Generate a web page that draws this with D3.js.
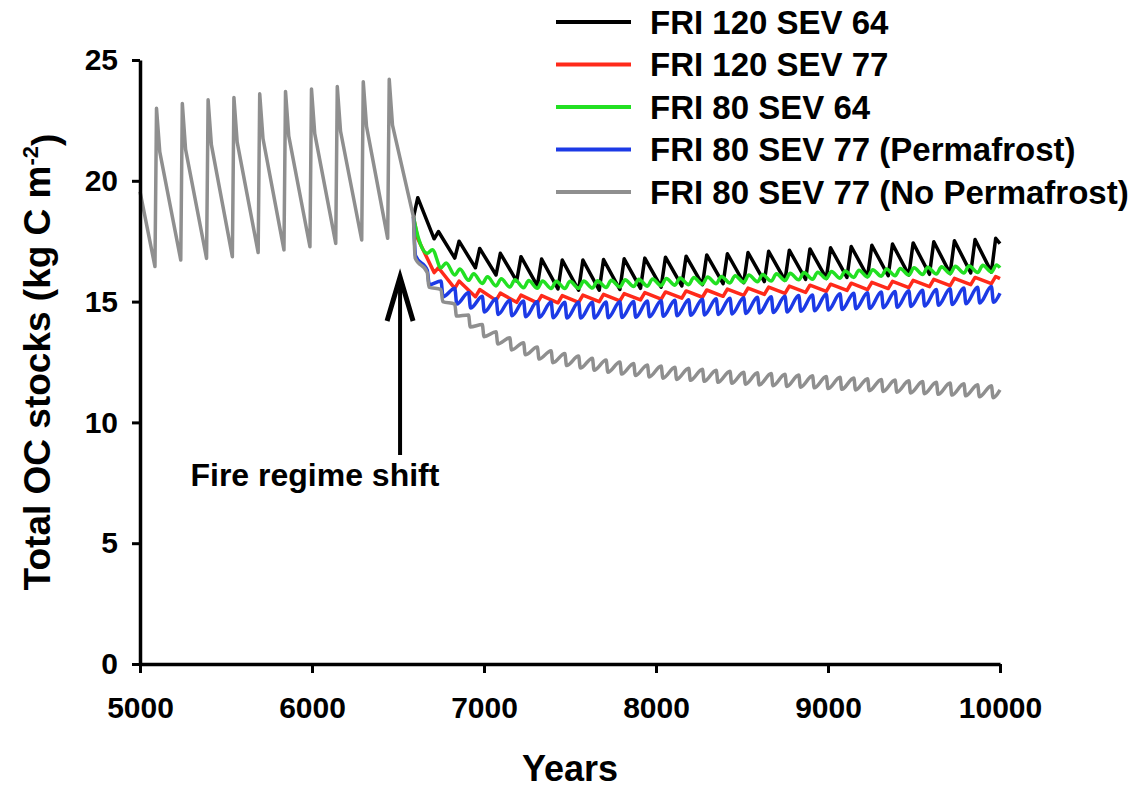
<!DOCTYPE html>
<html>
<head>
<meta charset="utf-8">
<script src="https://cdn.jsdelivr.net/npm/d3@7"></script>
<style>
  html, body { margin: 0; padding: 0; background: #fff; }
  svg { display: block; font-family: "Liberation Sans", Arial, sans-serif; font-weight: bold; }
</style>
</head>
<body>
<div id="chart"></div>
<script>
// Shared history before the regime change (FRI ~150): fire year, value at fire, post-fire peak, shoulder
const preStart = [5000, 19.55];
const preFire = [5087, 5237, 5387, 5537, 5687, 5837, 5988, 6138, 6289, 6440];
const preLow = [16.45, 16.72, 16.79, 16.86, 17.03, 17.14, 17.27, 17.41, 17.55, 17.62];
const prePeak = [23.0, 23.2, 23.35, 23.45, 23.6, 23.7, 23.8, 23.9, 24.1, 24.2];
const preShoulder = [21.2, 21.3, 21.5, 21.6, 21.75, 21.85, 21.95, 22.05, 22.25, 22.3];
const shiftPoint = [6590, 18.5];

// After the shift, fires every FRI years starting at the shift
const shiftYear = 6590;
const endYear = 10000;

// FRI 120 SEV 64: value at each fire, then peak 25 yr later
const blackLow = [18.5, 17.6, 16.8, 16.4, 16.1, 15.85, 15.65, 15.52, 15.47, 15.47, 15.5, 15.55, 15.6, 15.65, 15.7,
  15.74, 15.78, 15.83, 15.88, 15.92, 15.96, 16.0, 16.04, 16.07, 16.1, 16.13, 16.16, 16.19, 16.22];
const blackHigh = [19.3, 17.9, 17.5, 17.2, 17.0, 16.86, 16.76, 16.72, 16.72, 16.74, 16.77, 16.8, 16.84, 16.88, 16.93,
  16.98, 17.03, 17.08, 17.13, 17.18, 17.23, 17.28, 17.33, 17.38, 17.43, 17.48, 17.52, 17.57, 17.62];
const blackEnd = 17.4;

// FRI 120 SEV 77
const redLow = [18.5, 16.2, 15.55, 15.2, 15.05, 14.97, 14.95, 14.95, 14.97, 15.0, 15.03, 15.07, 15.1, 15.14, 15.18,
  15.22, 15.26, 15.3, 15.34, 15.38, 15.42, 15.46, 15.5, 15.54, 15.58, 15.62, 15.66, 15.7, 15.74];
const redHigh = [17.6, 16.4, 15.85, 15.5, 15.35, 15.27, 15.25, 15.25, 15.27, 15.3, 15.33, 15.37, 15.4, 15.44, 15.48,
  15.52, 15.56, 15.6, 15.64, 15.68, 15.72, 15.76, 15.8, 15.84, 15.88, 15.92, 15.96, 16.0, 16.04];
const redEnd = 15.95;

// FRI 80 SEV 64: value at each fire, then hump 30 yr later
const greenLow = [18.5, 17.0, 16.4, 16.1, 15.88, 15.75, 15.65, 15.6, 15.57, 15.55, 15.54, 15.54, 15.55, 15.56, 15.58,
  15.6, 15.62, 15.64, 15.66, 15.68, 15.7, 15.72, 15.74, 15.77, 15.8, 15.82, 15.85, 15.87, 15.9, 15.92,
  15.95, 15.97, 16.0, 16.02, 16.05, 16.07, 16.1, 16.12, 16.14, 16.16, 16.18, 16.2, 16.22];
const greenHigh = [17.6, 17.15, 16.6, 16.35, 16.15, 16.03, 15.95, 15.9, 15.87, 15.85, 15.84, 15.84, 15.85, 15.86, 15.88,
  15.9, 15.92, 15.94, 15.96, 15.98, 16.0, 16.02, 16.04, 16.07, 16.1, 16.12, 16.15, 16.17, 16.2, 16.22,
  16.25, 16.27, 16.3, 16.32, 16.35, 16.37, 16.4, 16.42, 16.44, 16.46, 16.48, 16.5, 16.52];
const greenEnd = 16.4;

// FRI 80 SEV 77 (Permafrost): value at each fire, then trough 12 yr later
const blueTop = [18.5, 16.3, 15.85, 15.55, 15.38, 15.22, 15.12, 15.06, 15.02, 15.0, 14.98, 14.97, 14.97, 14.97, 14.98,
  14.99, 15.0, 15.02, 15.04, 15.06, 15.08, 15.1, 15.12, 15.14, 15.16, 15.18, 15.2, 15.22, 15.25, 15.27,
  15.3, 15.32, 15.35, 15.37, 15.4, 15.42, 15.45, 15.47, 15.5, 15.53, 15.56, 15.59, 15.62];
const blueBottom = [16.9, 15.7, 15.2, 14.9, 14.73, 14.57, 14.47, 14.41, 14.37, 14.35, 14.33, 14.32, 14.32, 14.32, 14.33,
  14.34, 14.35, 14.37, 14.39, 14.41, 14.43, 14.45, 14.47, 14.49, 14.51, 14.53, 14.55, 14.57, 14.6, 14.62,
  14.65, 14.67, 14.7, 14.72, 14.75, 14.77, 14.8, 14.82, 14.85, 14.88, 14.91, 14.94, 14.97];
const blueEnd = 15.35;

// FRI 80 SEV 77 (No Permafrost): value at each fire, then trough 10 yr later
const grayTop = [18.5, 16.2, 15.5, 14.9, 14.45, 14.05, 13.75, 13.5, 13.3, 13.12, 12.97, 12.85, 12.75, 12.66, 12.58,
  12.5, 12.44, 12.38, 12.33, 12.28, 12.24, 12.2, 12.16, 12.12, 12.08, 12.05, 12.02, 11.99, 11.96, 11.93,
  11.9, 11.87, 11.84, 11.81, 11.78, 11.75, 11.72, 11.69, 11.66, 11.63, 11.6, 11.56, 11.52];
const grayBottom = [16.8, 15.6, 15.0, 14.4, 13.95, 13.55, 13.25, 13.0, 12.8, 12.62, 12.47, 12.35, 12.25, 12.16, 12.08,
  12.0, 11.94, 11.88, 11.83, 11.78, 11.74, 11.7, 11.66, 11.62, 11.58, 11.55, 11.52, 11.49, 11.46, 11.43,
  11.4, 11.37, 11.34, 11.31, 11.28, 11.25, 11.22, 11.19, 11.16, 11.13, 11.1, 11.06, 11.02];
const grayEnd = 11.35;

const legendLabels = ['FRI 120 SEV 64', 'FRI 120 SEV 77', 'FRI 80 SEV 64', 'FRI 80 SEV 77 (Permafrost)', 'FRI 80 SEV 77 (No Permafrost)'];
const seriesColors = ['#000000', '#ff2a1a', '#22e022', '#1c3ae6', '#8f8f8f'];
const yTicks = [0, 5, 10, 15, 20, 25];
const xTicks = [5000, 6000, 7000, 8000, 9000, 10000];

// Arrow annotation, in data units
const arrowYear = 6512;
const arrowTip = 16.1;
const arrowBase = 8.65;
const shiftLabel = { text: 'Fire regime shift', year: 6017, value: 7.35 };

const width = 1142;
const height = 789;

const svg = d3.select('#chart')
  .append('svg')
  .attr('width', width)
  .attr('height', height);

const x = d3.scaleLinear().domain([5000, 10000]).range([140, 1000]);
const y = d3.scaleLinear().domain([0, 25]).range([664, 60]);

// Turn per-fire arrays into a vertex list: [fire, a], [fire + lag, b], ...
function cycles(fri, first, second, lag, endValue) {
  const pts = [];
  first.forEach((v, k) => {
    const f = shiftYear + k * fri;
    pts.push([f, v], [f + lag, second[k]]);
  });
  pts.push([endYear, endValue]);
  return pts;
}

const prePoints = [preStart];
preFire.forEach((f, i) => {
  prePoints.push([f, preLow[i]], [f + 9, prePeak[i]], [f + 28, preShoulder[i]]);
});
prePoints.push(shiftPoint);

const series = [
  { pts: cycles(120, blackLow, blackHigh, 25, blackEnd), curve: d3.curveLinear },
  { pts: cycles(120, redLow, redHigh, 25, redEnd), curve: d3.curveLinear },
  { pts: cycles(80, greenLow, greenHigh, 30, greenEnd), curve: d3.curveMonotoneX },
  { pts: cycles(80, blueTop, blueBottom, 12, blueEnd), curve: d3.curveMonotoneX },
  { pts: cycles(80, grayTop, grayBottom, 10, grayEnd), curve: d3.curveMonotoneX }
];

const line = d3.line().x(d => x(d[0])).y(d => y(d[1]));

const plot = svg.append('g');

series.forEach((s, i) => {
  plot.append('path')
    .attr('d', line.curve(s.curve)(s.pts))
    .attr('fill', 'none')
    .attr('stroke', seriesColors[i])
    .attr('stroke-width', 3.5)
    .attr('stroke-linejoin', 'round');
});

// Shared pre-shift history drawn last, on top
plot.append('path')
  .attr('d', line.curve(d3.curveLinear)(prePoints))
  .attr('fill', 'none')
  .attr('stroke', seriesColors[4])
  .attr('stroke-width', 3.5)
  .attr('stroke-linejoin', 'round');

// Axes
const yAxis = svg.append('g')
  .attr('transform', `translate(${x(5000)},0)`)
  .call(d3.axisLeft(y).tickValues(yTicks).tickSize(8).tickSizeOuter(0).tickPadding(14));

const xAxis = svg.append('g')
  .attr('transform', `translate(0,${y(0)})`)
  .call(d3.axisBottom(x).tickValues(xTicks).tickFormat(d3.format('d')).tickSize(9).tickSizeOuter(0).tickPadding(24));

[yAxis, xAxis].forEach(a => {
  a.select('.domain').attr('stroke', '#000').attr('stroke-width', 3.5);
  a.selectAll('.tick line').attr('stroke', '#000').attr('stroke-width', 3);
  a.selectAll('.tick text')
    .attr('fill', '#000')
    .style('font-family', '"Liberation Sans", Arial, sans-serif')
    .style('font-weight', 'bold')
    .style('font-size', '30px');
});

svg.append('text')
  .attr('x', (x(5000) + x(10000)) / 2)
  .attr('y', 781)
  .attr('text-anchor', 'middle')
  .style('font-size', '36px')
  .text('Years');

const yTitle = svg.append('text')
  .attr('transform', `translate(50,${(y(0) + y(25)) / 2}) rotate(-90)`)
  .attr('text-anchor', 'middle')
  .style('font-size', '37px');
yTitle.append('tspan').text('Total OC stocks (kg C m');
yTitle.append('tspan').attr('dy', '-0.55em').style('font-size', '22px').text('-2');
yTitle.append('tspan').attr('dy', '0.55em').text(')');

// Fire regime shift arrow
const ax = x(arrowYear);
const tipY = y(arrowTip);
svg.append('path')
  .attr('d', `M${ax},${y(arrowBase)}V${tipY + 2}`)
  .attr('stroke', '#000')
  .attr('stroke-width', 4)
  .attr('fill', 'none');
svg.append('path')
  .attr('d', `M${ax - 13},${tipY + 46}L${ax},${tipY + 2}L${ax + 13},${tipY + 46}`)
  .attr('stroke', '#000')
  .attr('stroke-width', 5)
  .attr('stroke-linejoin', 'miter')
  .attr('fill', 'none');

svg.append('text')
  .attr('x', x(shiftLabel.year))
  .attr('y', y(shiftLabel.value))
  .attr('text-anchor', 'middle')
  .style('font-size', '32px')
  .text(shiftLabel.text);

// Legend
const legend = svg.append('g');
legendLabels.forEach((label, i) => {
  const cy = 22 + i * 42.5;
  legend.append('line')
    .attr('x1', 556).attr('x2', 631)
    .attr('y1', cy).attr('y2', cy)
    .attr('stroke', seriesColors[i])
    .attr('stroke-width', 4);
  legend.append('text')
    .attr('x', 650)
    .attr('y', cy)
    .attr('dy', '0.36em')
    .style('font-size', '33px')
    .text(label);
});
</script>
</body>
</html>
